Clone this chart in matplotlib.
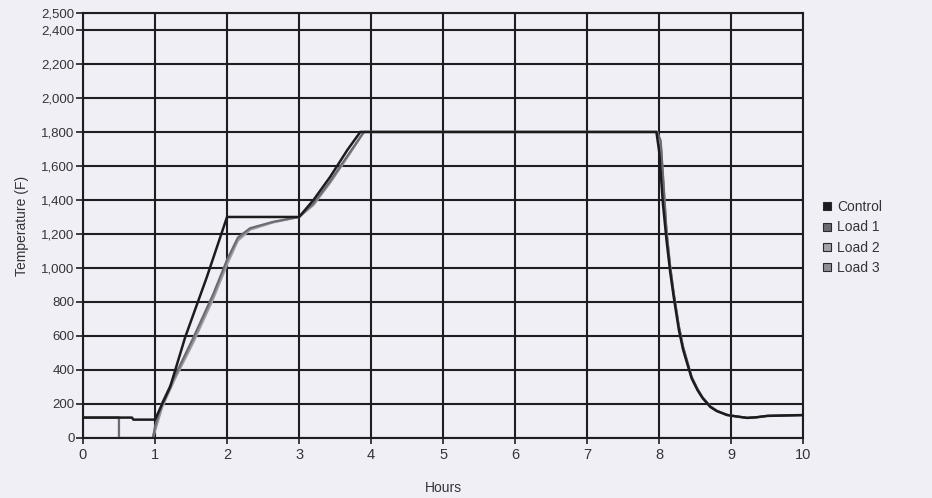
import matplotlib.pyplot as plt
import matplotlib.ticker as mticker

# --- Dados ---
horas_controle = [0, 0.68, 0.70, 1.0, 1.1, 1.21, 1.42, 1.72, 1.94, 2.0, 3.0, 3.2, 3.43, 3.67, 3.85,
                  7.96, 8.0, 8.05, 8.1, 8.15, 8.2, 8.27, 8.33, 8.4, 8.45, 8.53, 8.6, 8.71, 8.8,
                  8.94, 9.05, 9.22, 9.35, 9.5, 10]
controle = [120, 120, 108, 108, 200, 300, 594, 947, 1224, 1300, 1300, 1400, 1535, 1694, 1800,
            1800, 1680, 1380, 1165, 980, 830, 640, 520, 420, 350, 282, 235, 182, 158,
            135, 128, 118, 122, 130, 135]

horas_carga = [0, 0.5, 0.5, 0.97, 1.0, 1.1, 1.28, 1.53, 1.81, 2.0, 2.15, 2.32, 2.64, 3.0,
               3.2, 3.43, 3.67, 3.9, 7.97, 8.02, 8.06, 8.1, 8.15, 8.2, 8.27, 8.33, 8.4, 8.45,
               8.53, 8.6, 8.71, 8.8, 8.94, 9.05, 9.22, 9.35, 9.5, 10]
carga_1 = [120, 120, 0, 0, 70, 210, 370, 590, 850, 1050, 1180, 1235, 1272, 1300,
           1380, 1510, 1660, 1800, 1800, 1750, 1500, 1230, 1020, 860, 665, 540, 435, 360,
           290, 240, 186, 160, 137, 129, 119, 122, 130, 135]
carga_2 = [120, 120, 0, 0, 40, 180, 350, 560, 820, 1020, 1160, 1225, 1268, 1300,
           1370, 1500, 1650, 1800, 1800, 1720, 1450, 1200, 1000, 845, 655, 530, 428, 355,
           286, 238, 184, 159, 136, 128, 118, 122, 130, 135]
carga_3 = [120, 120, 0, 0, 55, 195, 360, 575, 835, 1040, 1170, 1230, 1270, 1300,
           1375, 1505, 1655, 1800, 1800, 1740, 1480, 1215, 1010, 850, 660, 535, 430, 357,
           288, 239, 185, 159, 136, 128, 118, 122, 130, 135]

nomes = ['Control', 'Load 1', 'Load 2', 'Load 3']
cores = ['#1c1c1e', '#6a6a70', '#a2a2a8', '#8e8e94']

# --- Configuração ---
plt.rcParams['font.family'] = ['Liberation Sans', 'DejaVu Sans']
fundo = '#efeff5'

fig = plt.figure(figsize=(9.32, 4.98), dpi=100, facecolor=fundo)
ax = fig.add_axes([0.089, 0.1205, 0.773, 0.8535], facecolor=fundo)

# cargas abaixo dos eixos (o trecho em 0 fica escondido), controle por cima
ax.plot(horas_carga, carga_2, color=cores[2], linewidth=1.6, label=nomes[2], zorder=2.2)
ax.plot(horas_carga, carga_3, color=cores[3], linewidth=1.6, label=nomes[3], zorder=2.2)
ax.plot(horas_carga, carga_1, color=cores[1], linewidth=1.4, label=nomes[1], zorder=2.3)
ax.plot(horas_controle, controle, color=cores[0], linewidth=1.8, label=nomes[0], zorder=4)

ax.set_xlim(0, 10)
ax.set_ylim(0, 2500)
ax.set_xticks(range(0, 11))
ax.set_yticks(list(range(0, 2401, 200)) + [2500])
ax.yaxis.set_major_formatter(mticker.FuncFormatter(lambda v, p: f'{int(v):,}'))

ax.grid(True, color='#1e1e22', linewidth=1.5)
ax.set_axisbelow(True)
for lado in ax.spines.values():
    lado.set_color('#1e1e22')
    lado.set_linewidth(1.5)

ax.tick_params(axis='x', direction='out', length=4, width=1.2, colors='#1e1e22',
               labelsize=10.5, pad=3)
ax.tick_params(axis='y', direction='out', length=5, width=1.2, colors='#1e1e22',
               labelsize=9.5, pad=1)
for t in ax.get_xticklabels() + ax.get_yticklabels():
    t.set_color('#333338')

ax.set_xlabel('Hours', fontsize=10, color='#333338', labelpad=14)
ax.set_ylabel('Temperature (F)', fontsize=10, color='#333338', labelpad=9)

# legenda com quadradinhos
handles = [plt.Line2D([], [], marker='s', linestyle='none', markersize=6,
                      markerfacecolor=c, markeredgecolor='#2a2a2e', markeredgewidth=0.8)
           for c in cores]
fig.legend(handles, nomes, loc='center left', bbox_to_anchor=(0.868, 0.523),
           frameon=False, fontsize=10, handletextpad=0.3, labelspacing=0.45,
           handlelength=0.8, labelcolor='#333338')

plt.savefig('out.png', facecolor=fundo)
plt.close()
